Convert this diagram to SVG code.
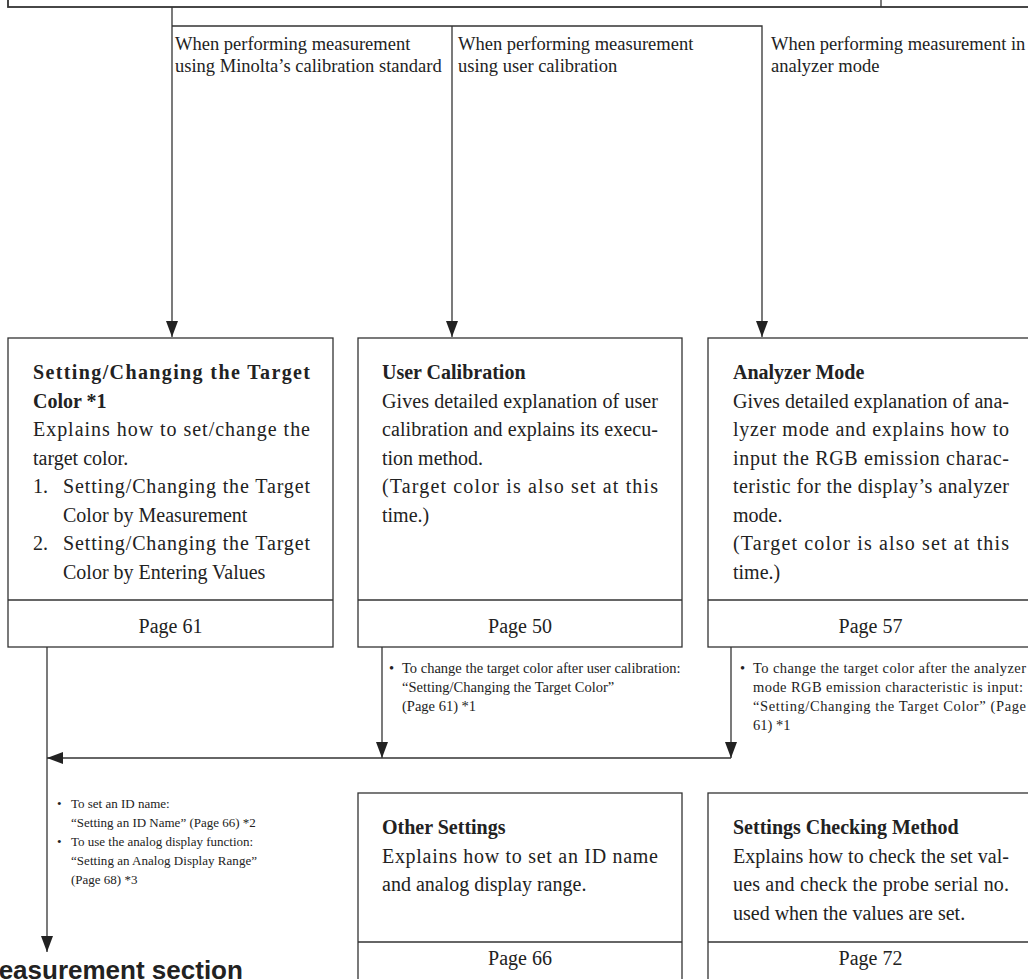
<svg xmlns="http://www.w3.org/2000/svg" width="1028" height="979" viewBox="0 0 1028 979">
<style>
.box{fill:#fff;stroke:#333;stroke-width:1.3}
.ln{fill:none;stroke:#333;stroke-width:1.3}
text{font-family:"Liberation Serif","Times New Roman",serif;fill:#222}
.lbl{font-size:18.5px}
.hd{font-size:20px;font-weight:bold}
.bd{font-size:20px}
.pg{font-size:20px;text-anchor:middle}
.bl{font-size:14.5px}
.bs{font-size:13px}
.big{font-family:"Liberation Sans",Arial,sans-serif;font-size:26px;font-weight:bold}
</style>
<defs>
<marker id="arr" viewBox="0 0 16 12" refX="16" refY="6" markerWidth="16" markerHeight="12" orient="auto" markerUnits="userSpaceOnUse">
<path d="M0,0 L16,6 L0,12 z" fill="#222"/>
</marker>
</defs>
<rect width="1028" height="979" fill="#fff"/>

<g id="top-box">
<rect x="8" y="-20" width="1040" height="27" fill="#fff" stroke="#333" stroke-width="1.8"/>
<line x1="881" y1="-5" x2="881" y2="7" stroke="#333" stroke-width="1.3"/>
</g>

<g id="connectors">
<path class="ln" d="M172,7 V337" marker-end="url(#arr)"/>
<path class="ln" d="M172,26 H762 V337" marker-end="url(#arr)"/>
<path class="ln" d="M452,26 V337" marker-end="url(#arr)"/>
<path class="ln" d="M47,647 V952" marker-end="url(#arr)"/>
<path class="ln" d="M382,647 V758" marker-end="url(#arr)"/>
<path class="ln" d="M731,647 V758" marker-end="url(#arr)"/>
<path class="ln" d="M731,758 H47" marker-end="url(#arr)"/>
</g>

<g id="labels">
<text class="lbl" x="175" y="50">When performing measurement</text>
<text class="lbl" x="175" y="72">using Minolta’s calibration standard</text>
<text class="lbl" x="458" y="50">When performing measurement</text>
<text class="lbl" x="458" y="72">using user calibration</text>
<text class="lbl" x="771" y="50">When performing measurement in</text>
<text class="lbl" x="771" y="72">analyzer mode</text>
</g>

<g id="target-color">
<rect class="box" x="8" y="338" width="325" height="309"/>
<line class="ln" x1="8" y1="600" x2="333" y2="600"/>
<text class="hd" x="33" y="379" textLength="277" lengthAdjust="spacing">Setting/Changing the Target</text>
<text class="hd" x="33" y="407.5">Color *1</text>
<text class="bd" x="33" y="436" textLength="277" lengthAdjust="spacing">Explains how to set/change the</text>
<text class="bd" x="33" y="464.5">target color.</text>
<text class="bd" x="33" y="493">1.</text>
<text class="bd" x="63" y="493" textLength="247" lengthAdjust="spacing">Setting/Changing the Target</text>
<text class="bd" x="63" y="521.5">Color by Measurement</text>
<text class="bd" x="33" y="550">2.</text>
<text class="bd" x="63" y="550" textLength="247" lengthAdjust="spacing">Setting/Changing the Target</text>
<text class="bd" x="63" y="578.5">Color by Entering Values</text>
<text class="pg" x="170.5" y="633">Page 61</text>
</g>

<g id="user-calibration">
<rect class="box" x="358" y="338" width="324" height="309"/>
<line class="ln" x1="358" y1="600" x2="682" y2="600"/>
<text class="hd" x="382" y="379">User Calibration</text>
<text class="bd" x="382" y="407.5" textLength="276" lengthAdjust="spacing">Gives detailed explanation of user</text>
<text class="bd" x="382" y="436" textLength="276" lengthAdjust="spacing">calibration and explains its execu-</text>
<text class="bd" x="382" y="464.5">tion method.</text>
<text class="bd" x="382" y="493" textLength="276" lengthAdjust="spacing">(Target color is also set at this</text>
<text class="bd" x="382" y="521.5">time.)</text>
<text class="pg" x="520" y="633">Page 50</text>
</g>

<g id="analyzer-mode">
<rect class="box" x="708" y="338" width="326" height="309"/>
<line class="ln" x1="708" y1="600" x2="1034" y2="600"/>
<text class="hd" x="733" y="379">Analyzer Mode</text>
<text class="bd" x="733" y="407.5" textLength="276" lengthAdjust="spacing">Gives detailed explanation of ana-</text>
<text class="bd" x="733" y="436" textLength="276" lengthAdjust="spacing">lyzer mode and explains how to</text>
<text class="bd" x="733" y="464.5" textLength="276" lengthAdjust="spacing">input the RGB emission charac-</text>
<text class="bd" x="733" y="493" textLength="276" lengthAdjust="spacing">teristic for the display’s analyzer</text>
<text class="bd" x="733" y="521.5">mode.</text>
<text class="bd" x="733" y="550" textLength="276" lengthAdjust="spacing">(Target color is also set at this</text>
<text class="bd" x="733" y="578.5">time.)</text>
<text class="pg" x="870.5" y="633">Page 57</text>
</g>

<g id="note-user">
<text class="bl" x="389" y="673">•</text>
<text class="bl" x="402" y="673">To change the target color after user calibration:</text>
<text class="bl" x="402" y="692">“Setting/Changing the Target Color”</text>
<text class="bl" x="402" y="711">(Page 61) *1</text>
</g>

<g id="note-analyzer">
<text class="bl" x="740" y="673">•</text>
<text class="bl" x="753" y="673" textLength="273" lengthAdjust="spacing">To change the target color after the analyzer</text>
<text class="bl" x="753" y="692" textLength="270" lengthAdjust="spacing">mode RGB emission characteristic is input:</text>
<text class="bl" x="753" y="711" textLength="273" lengthAdjust="spacing">“Setting/Changing the Target Color” (Page</text>
<text class="bl" x="753" y="730">61) *1</text>
</g>

<g id="note-other">
<text class="bs" x="57" y="808">•</text>
<text class="bs" x="71" y="808">To set an ID name:</text>
<text class="bs" x="71" y="827">“Setting an ID Name” (Page 66) *2</text>
<text class="bs" x="57" y="846">•</text>
<text class="bs" x="71" y="846">To use the analog display function:</text>
<text class="bs" x="71" y="865" textLength="186" lengthAdjust="spacing">“Setting an Analog Display Range”</text>
<text class="bs" x="71" y="884">(Page 68) *3</text>
</g>

<g id="measurement-section">
<text class="big" x="-23" y="979">Measurement section</text>
</g>

<g id="other-settings">
<rect class="box" x="358" y="793" width="324" height="200"/>
<line class="ln" x1="358" y1="942" x2="682" y2="942"/>
<text class="hd" x="382" y="834">Other Settings</text>
<text class="bd" x="382" y="862.5" textLength="276" lengthAdjust="spacing">Explains how to set an ID name</text>
<text class="bd" x="382" y="891">and analog display range.</text>
<text class="pg" x="520" y="965">Page 66</text>
</g>

<g id="settings-checking">
<rect class="box" x="708" y="793" width="326" height="200"/>
<line class="ln" x1="708" y1="942" x2="1034" y2="942"/>
<text class="hd" x="733" y="834">Settings Checking Method</text>
<text class="bd" x="733" y="862.5" textLength="276" lengthAdjust="spacing">Explains how to check the set val-</text>
<text class="bd" x="733" y="891" textLength="276" lengthAdjust="spacing">ues and check the probe serial no.</text>
<text class="bd" x="733" y="919.5">used when the values are set.</text>
<text class="pg" x="870.5" y="965">Page 72</text>
</g>
</svg>
